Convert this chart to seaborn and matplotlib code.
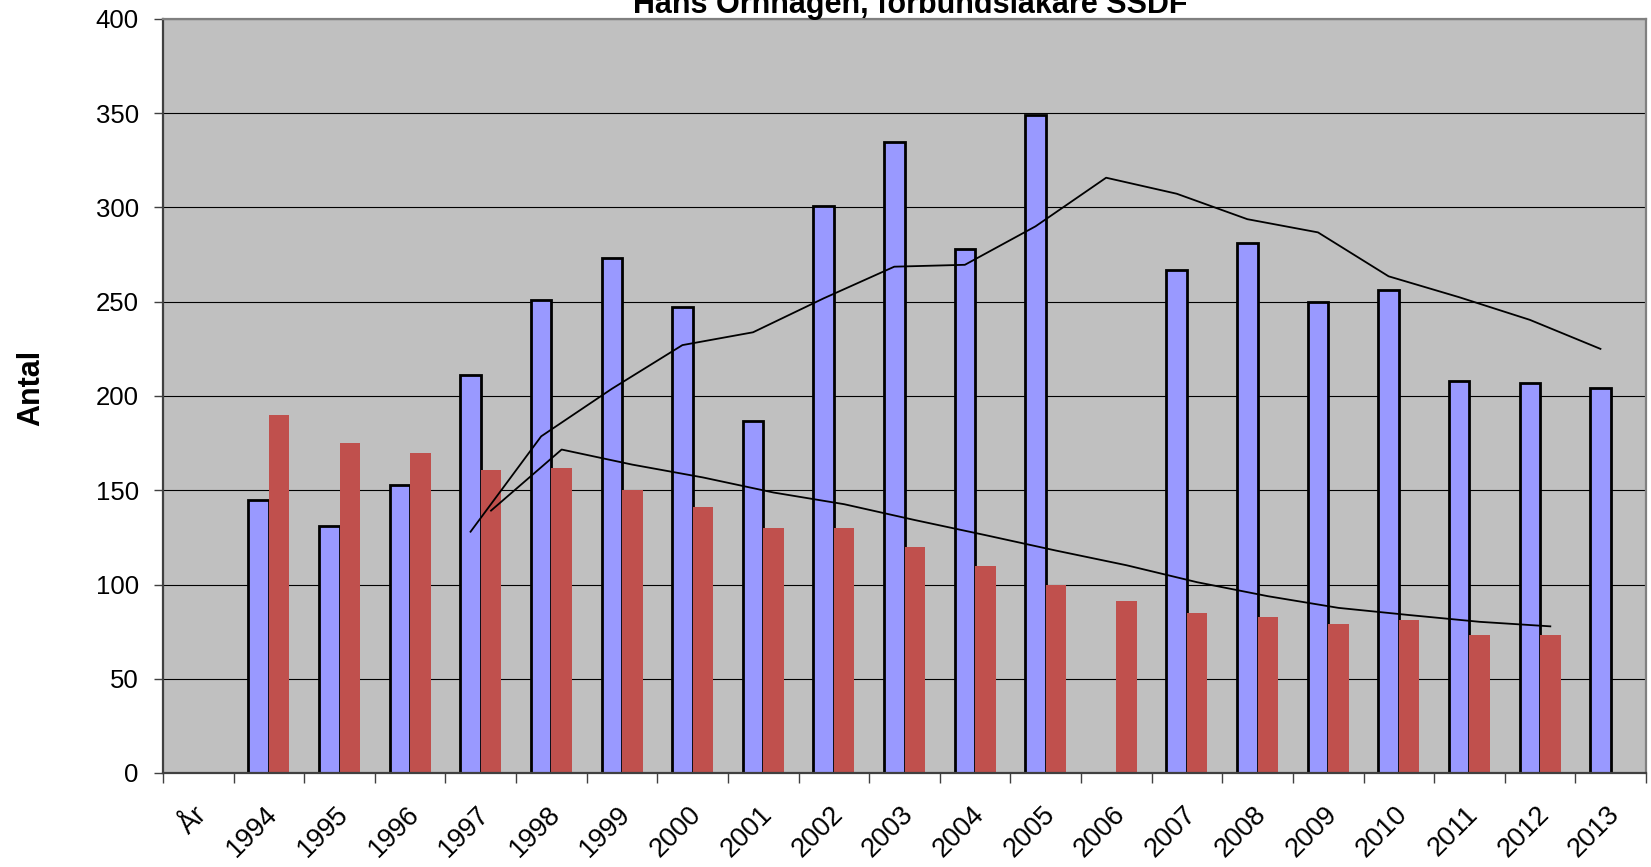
import numpy as np
import pandas as pd
import matplotlib
matplotlib.use("Agg")
import matplotlib.pyplot as plt
import matplotlib.transforms as mtransforms
import seaborn as sns

# data
categories = ["År", "1994", "1995", "1996", "1997", "1998", "1999", "2000", "2001", "2002",
              "2003", "2004", "2005", "2006", "2007", "2008", "2009", "2010", "2011", "2012", "2013"]
blue = [None, 145, 131, 153, 211, 251, 273, 247, 187, 301, 335, 278, 349, None,
        267, 281, 250, 256, 208, 207, 204]
red = [None, 190, 175, 170, 161, 162, 150, 141, 130, 130, 120, 110, 100, 91,
       85, 83, 79, 81, 73, 73, None]
# moving-average trend lines as they appear in the chart
blue_trend = [None, None, None, None, 128, 178.6, 203.8, 227, 233.8, 251.8, 268.6, 269.6,
              290, 315.8, 307.3, 293.8, 286.8, 263.5, 252.4, 240.4, 225]
red_trend = [None, None, None, None, 139.2, 171.6, 163.6, 156.8, 148.8, 142.6, 134.2, 126.2,
             118, 110.2, 101.2, 93.8, 87.6, 83.8, 80.2, 77.8, None]

title = "Hans Örnhagen, förbundsläkare SSDF"
colors = {"blå": "#9999FF", "röd": "#C0504D"}
bar_w = 0.58

plt.rcParams['font.family'] = ['Liberation Sans', 'DejaVu Sans']

df = pd.DataFrame({
    "år": categories * 2,
    "serie": ["blå"] * len(categories) + ["röd"] * len(categories),
    "antal": blue + red,
}).dropna()

fig = plt.figure(figsize=(16.51, 8.67), dpi=100)
ax = fig.add_axes([163 / 1651, 94 / 867, 1483 / 1651, 754 / 867])
ax.set_facecolor("#C0C0C0")

sns.barplot(data=df, x="år", y="antal", hue="serie", order=categories,
            hue_order=["blå", "röd"], palette=colors, width=bar_w, gap=0,
            errorbar=None, saturation=1, legend=False, ax=ax)

for bar in ax.containers[0]:
    bar.set_edgecolor("black")
    bar.set_linewidth(2.0)
for bar in ax.containers[1]:
    bar.set_edgecolor("none")
    bar.set_linewidth(0)

pos = np.arange(len(categories))
trend = pd.DataFrame({"x_blue": pos - bar_w / 4, "x_red": pos + bar_w / 4,
                      "blue": blue_trend, "red": red_trend})
tb = trend.dropna(subset=["blue"])
tr = trend.dropna(subset=["red"])
sns.lineplot(x=tb["x_blue"], y=tb["blue"], color="black", lw=1.3, sort=False, ax=ax)
sns.lineplot(x=tr["x_red"], y=tr["red"], color="black", lw=1.3, sort=False, ax=ax)

ax.set_xlim(-0.5, len(categories) - 0.5)
ax.set_ylim(0, 400)
ax.set_yticks(np.arange(0, 401, 50))
ax.set_xticks(pos)
ax.set_xticklabels(categories)
ax.set_xticks(np.arange(len(categories) + 1) - 0.5, minor=True)

ax.set_axisbelow(True)
ax.yaxis.grid(True, color="black", lw=0.8)
ax.xaxis.grid(False)

ax.tick_params(axis="y", length=6.5, width=1, color="#404040", pad=11, labelsize=18.5)
ax.tick_params(axis="x", which="major", length=0, pad=27, labelsize=19.5)
ax.tick_params(axis="x", which="minor", length=7, width=1, color="#404040", direction="out")

offset = mtransforms.ScaledTranslation(5 / 100, 0, fig.dpi_scale_trans)
for lab in ax.get_xticklabels():
    lab.set_rotation(45)
    lab.set_ha("right")
    lab.set_va("center")
    lab.set_rotation_mode("anchor")
    lab.set_transform(lab.get_transform() + offset)

for side in ["left", "bottom"]:
    ax.spines[side].set_color("#404040")
    ax.spines[side].set_linewidth(1.6)
for side in ["top", "right"]:
    ax.spines[side].set_color("#808080")
    ax.spines[side].set_linewidth(1.6)

ax.set_xlabel("")
ax.set_ylabel("Antal", fontsize=22, fontweight="bold", va="center")
ax.yaxis.set_label_coords(-0.089, 0.511)

fig.text(910 / 1651, 1 - 13.3 / 867, title, ha="center", va="baseline",
         fontsize=22, fontweight="bold")

fig.savefig("out.png", dpi=100, facecolor="white")
